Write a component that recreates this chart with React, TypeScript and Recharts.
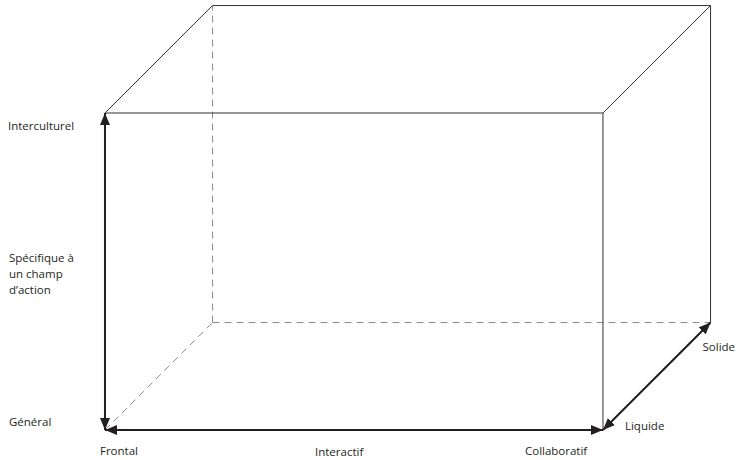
import React from "react";
import { ComposedChart, ReferenceLine, Scatter, XAxis, YAxis } from "recharts";

// the three dimensions of the cube, each running 0..1
const widthCategories = ["Frontal", "Interactif", "Collaboratif"];
const widthValues = [0, 0.5, 1];
const heightCategories = ["Général", "Spécifique à\nun champ\nd’action", "Interculturel"];
const heightValues = [0, 0.5, 1];
const depthCategories = ["Liquide", "Solide"];
const depthValues = [0, 1];

type Vertex = [number, number, number]; // [width, height, depth]

const visibleEdges: [Vertex, Vertex][] = [
  [[0, 1, 0], [1, 1, 0]],
  [[1, 0, 0], [1, 1, 0]],
  [[0, 1, 1], [1, 1, 1]],
  [[1, 0, 1], [1, 1, 1]],
  [[0, 1, 0], [0, 1, 1]],
  [[1, 1, 0], [1, 1, 1]],
];
const hiddenEdges: [Vertex, Vertex][] = [
  [[0, 0, 1], [0, 1, 1]],
  [[0, 0, 1], [1, 0, 1]],
  [[0, 0, 0], [0, 0, 1]],
];
const axisArrows: [Vertex, Vertex][] = [
  [[0, 0, 0], [1, 0, 0]],
  [[0, 0, 0], [0, 1, 0]],
  [[1, 0, 0], [1, 0, 1]],
];

// oblique projection of the depth axis
const DEPTH_DX = 0.216;
const DEPTH_DY = 0.339;
const project = ([w, h, d]: Vertex) => ({ x: w + d * DEPTH_DX, y: h + d * DEPTH_DY });

// pixel nudges for each label relative to its anchor point
const labelLayout: Record<string, { dx: number; dy: number }> = {
  Frontal: { dx: -5, dy: 25 },
  Interactif: { dx: -39, dy: 26 },
  Collaboratif: { dx: -78, dy: 25 },
  Général: { dx: -96, dy: -4 },
  "Spécifique à\nun champ\nd’action": { dx: -96, dy: -9.5 },
  Interculturel: { dx: -97, dy: 16.5 },
  Liquide: { dx: 22, dy: 0 },
  Solide: { dx: -8, dy: 28 },
};

const labelData = [
  ...widthCategories.map((name, i) => ({ name, ...project([widthValues[i], 0, 0]) })),
  ...heightCategories.map((name, i) => ({ name, ...project([0, heightValues[i], 0]) })),
  ...depthCategories.map((name, i) => ({ name, ...project([1, 0, depthValues[i]]) })),
];

const INK = "#231f20";

const LabelShape = (props: any) => {
  const { cx, cy, payload } = props;
  const { dx, dy } = labelLayout[payload.name];
  const lines = String(payload.name).split("\n");
  return (
    <text
      x={cx + dx}
      y={cy + dy}
      fill={INK}
      fontSize={11.5}
      fontFamily="'Open Sans', sans-serif"
      textAnchor="start"
    >
      {lines.map((line, i) => (
        <tspan key={i} x={cx + dx} dy={i === 0 ? 0 : 16}>
          {line}
        </tspan>
      ))}
    </text>
  );
};

const segment = ([a, b]: [Vertex, Vertex]) => [project(a), project(b)];

export default function App() {
  return (
    <div style={{ position: "absolute", left: 0, top: 0 }}>
      <svg width={0} height={0} style={{ position: "absolute" }}>
        <defs>
          <marker
            id="arrowHead"
            viewBox="0 0 12 10"
            refX={12}
            refY={5}
            markerWidth={12}
            markerHeight={10}
            markerUnits="userSpaceOnUse"
            orient="auto-start-reverse"
          >
            <path d="M0,0 L12,5 L0,10 Z" fill={INK} />
          </marker>
        </defs>
      </svg>
      <ComposedChart width={736} height={460} margin={{ top: 0, right: 0, bottom: 0, left: 0 }}>
        <XAxis type="number" dataKey="x" domain={[-0.2108, 1.2671]} hide allowDataOverflow />
        <YAxis type="number" dataKey="y" domain={[-0.0946, 1.3565]} hide allowDataOverflow />
        {hiddenEdges.map((e, i) => (
          <ReferenceLine
            key={`h${i}`}
            segment={segment(e)}
            stroke="#8a8a8a"
            strokeWidth={1}
            strokeDasharray="7 5"
            ifOverflow="visible"
          />
        ))}
        {visibleEdges.map((e, i) => (
          <ReferenceLine key={`v${i}`} segment={segment(e)} stroke="#333" strokeWidth={1} ifOverflow="visible" />
        ))}
        {axisArrows.map((e, i) => (
          <ReferenceLine
            key={`a${i}`}
            segment={segment(e)}
            stroke={INK}
            strokeWidth={2}
            markerStart="url(#arrowHead)"
            markerEnd="url(#arrowHead)"
            ifOverflow="visible"
          />
        ))}
        <Scatter data={labelData} dataKey="y" shape={LabelShape} isAnimationActive={false} />
      </ComposedChart>
    </div>
  );
}
